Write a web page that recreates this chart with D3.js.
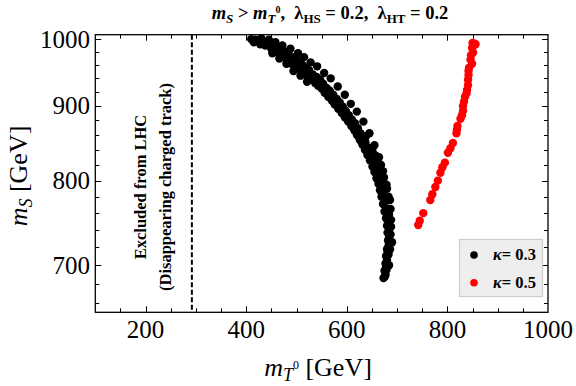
<!DOCTYPE html>
<html>
<head>
<meta charset="utf-8">
<script src="https://cdn.jsdelivr.net/npm/d3@7"></script>
<style>
  body { margin: 0; background: #fff; }
  svg { font-family: "Liberation Serif", "DejaVu Serif", serif; }
</style>
</head>
<body>
<div id="chart"></div>
<script>
// data: [m_T0, m_S] in GeV
const kappa03 = [
  [410,1000],[418,999],[425,998],[432,996],[440,995],[447,992],[455,988],[463,986],[470,982],[477,980],
  [485,975],[492,972],[499,968],[505,965],[512,960],[518,956],[525,952],[532,946],[540,942],[547,938],
  [553,932],[560,926],[566,922],[573,916],[580,910],[586,905],[592,899],[598,893],[604,887],[610,881],
  [616,876],[622,869],[627,862],[632,856],[637,850],[642,843],[647,836],[652,828],[656,822],[660,815],
  [664,808],[667,800],[671,792],[674,783],[676,775],[679,766],[681,757],[683,748],[684,740],[684,731],
  [683,722],[681,714],[680,706],[678,698],[677,690],
  [415,995],[428,992],[438,990],[450,985],[460,980],[468,975],[475,972],[482,968],[490,962],[497,958],
  [503,955],[510,950],[517,947],[523,942],[530,938],[537,933],[543,929],[550,925],[556,919],[563,913],
  [570,908],[576,902],[583,896],[590,890],[596,884],[603,878],[609,872],[615,866],[620,860],[626,853],
  [631,847],[636,840],[641,833],[646,826],[651,818],[655,811],[659,803],[663,796],[666,788],[669,780],
  [672,771],[675,762],[678,754],[680,745],[681,737],[682,728],[680,718],[678,710],[677,702],[675,694],[676,688],
  [430,1001],[445,999],[458,995],[472,990],[488,985],[503,978],[515,972],[528,964],[541,958],[555,948],
  [568,940],[582,928],[596,916],[608,903],[620,892],[633,878],[645,862],[655,846],[664,830],[672,812],
  [679,795],[683,780],[687,765],[688,752],[687,735],[686,718],
  [452,978],[466,970],[480,962],[494,951],[508,944],[521,935],[561,918],[575,904],[589,893],[601,881],
  [614,870],[624,857],[638,858],[651,838],[658,832],[668,820],[674,804],[680,790],[686,776],[684,758],
  [688,744],[690,726],[683,712],[684,700],[679,695],[673,686]
];
const kappa05 = [
  [742,746],[745,751],[752,760],[766,776],[770,783],[776,792],[781,800],[786,810],[790,817],[795,823],
  [801,836],[806,842],[811,849],[818,862],[819,867],[820,872],[826,882],[829,887],[831,893],[831,900],
  [833,906],[835,913],[838,918],[839,923],[841,930],[841,938],[842,945],[842,951],[843,956],[849,962],
  [846,968],[847,975],[851,979],[849,986],[852,990],[854,993],[850,994],[856,992]
];
const seriesNames = ["\u03ba= 0.3", "\u03ba= 0.5"];
const seriesColors = ["#000000", "#ff0000"];
const xTicks = [200, 400, 600, 800, 1000];
const yTicks = [700, 800, 900, 1000];
const exclusionLine = 292;

// CHART INIT -----------------------------------------------------------
const W = 576, H = 386;
const plot = {left: 95.3, right: 548, top: 34.7, bottom: 312.3};

const svg = d3.select('#chart').append('svg')
  .attr('width', W).attr('height', H);

const xScale = d3.scaleLinear().domain([100, 1000]).range([plot.left, plot.right]);
const yScale = d3.scaleLog().domain([650, 1007]).range([plot.bottom, plot.top]);

// frame ticks on all four sides, pointing inward
const xMinor = d3.range(150, 1000, 50);
const yMinor = d3.range(660, 1001, 20);
const tickG = svg.append('g').attr('stroke', '#000').attr('stroke-width', 1);
xMinor.forEach(v => {
  const len = v % 200 === 0 ? 6 : 4;
  const x = Math.round(xScale(v)) + 0.5;
  tickG.append('line').attr('x1', x).attr('x2', x).attr('y1', plot.bottom).attr('y2', plot.bottom - len);
  tickG.append('line').attr('x1', x).attr('x2', x).attr('y1', plot.top).attr('y2', plot.top + len);
});
yMinor.forEach(v => {
  const len = v % 100 === 0 ? 6 : 4;
  const y = Math.round(yScale(v)) + 0.5;
  tickG.append('line').attr('y1', y).attr('y2', y).attr('x1', plot.left).attr('x2', plot.left + len);
  tickG.append('line').attr('y1', y).attr('y2', y).attr('x1', plot.right).attr('x2', plot.right - len);
});

svg.append('rect')
  .attr('x', plot.left).attr('y', plot.top)
  .attr('width', plot.right - plot.left).attr('height', plot.bottom - plot.top)
  .attr('fill', 'none').attr('stroke', '#000').attr('stroke-width', 1.3);

// tick labels
svg.append('g').selectAll('text').data(xTicks).join('text')
  .attr('x', d => xScale(d)).attr('y', 338)
  .attr('text-anchor', 'middle').attr('font-size', 25)
  .text(d => d);

svg.append('g').selectAll('text').data(yTicks).join('text')
  .attr('x', 90).attr('y', d => yScale(d) + 8.5)
  .attr('text-anchor', 'end').attr('font-size', 25)
  .text(d => d);

// exclusion line
svg.append('line')
  .attr('x1', xScale(exclusionLine)).attr('x2', xScale(exclusionLine))
  .attr('y1', plot.top).attr('y2', plot.bottom)
  .attr('stroke', '#000').attr('stroke-width', 2)
  .attr('stroke-dasharray', '5,2.5');

const note = svg.append('text')
  .attr('transform', 'translate(154,187) rotate(-90)')
  .attr('text-anchor', 'middle').attr('font-weight', 'bold').attr('font-size', 16.5);
note.append('tspan').attr('x', 0).attr('dy', '-0.5em').text('Excluded from LHC');
note.append('tspan').attr('x', 0).attr('dy', '1.5em').text('(Disappearing charged track)');

// points
const clip = svg.append('clipPath').attr('id', 'clip').append('rect')
  .attr('x', plot.left).attr('y', plot.top)
  .attr('width', plot.right - plot.left).attr('height', plot.bottom - plot.top);

[kappa03, kappa05].forEach((series, i) => {
  svg.append('g').attr('clip-path', 'url(#clip)')
    .selectAll('circle').data(series).join('circle')
    .attr('cx', d => xScale(d[0]))
    .attr('cy', d => yScale(d[1]))
    .attr('r', 4.2)
    .attr('fill', seriesColors[i]);
});

// legend
const legend = svg.append('g');
legend.append('rect')
  .attr('x', 459.5).attr('y', 239.5).attr('width', 83).attr('height', 57)
  .attr('fill', '#eeeeee').attr('stroke', '#cccccc').attr('stroke-width', 1.2);
seriesNames.forEach((name, i) => {
  const y = 255 + i * 27.7;
  legend.append('circle').attr('cx', 474).attr('cy', y).attr('r', 3.8).attr('fill', seriesColors[i]);
  const t = legend.append('text').attr('x', 493).attr('y', y + 5)
    .attr('font-size', 16.5).attr('font-weight', 'bold');
  t.append('tspan').attr('font-style', 'italic').text(name.slice(0, 1));
  t.append('tspan').text(name.slice(1));
});

// axis titles
const xt = svg.append('text')
  .attr('x', 318).attr('y', 376).attr('text-anchor', 'middle').attr('font-size', 26);
xt.append('tspan').attr('font-style', 'italic').text('m');
xt.append('tspan').attr('font-style', 'italic').attr('font-size', 18).attr('dy', 5).text('T');
xt.append('tspan').attr('font-size', 12).attr('dy', -12).text('0');
xt.append('tspan').attr('dy', 7).text(' [GeV]');

const yt = svg.append('text')
  .attr('transform', 'translate(27,176) rotate(-90)')
  .attr('text-anchor', 'middle').attr('font-size', 26);
yt.append('tspan').attr('font-style', 'italic').text('m');
yt.append('tspan').attr('font-style', 'italic').attr('font-size', 18).attr('dy', 5).text('S');
yt.append('tspan').attr('dy', -5).text(' [GeV]');

// title
const title = svg.append('text')
  .attr('x', 330).attr('y', 19).attr('text-anchor', 'middle')
  .style('white-space', 'pre')
  .attr('font-size', 18.5).attr('font-weight', 'bold');
title.append('tspan').attr('font-style', 'italic').text('m');
title.append('tspan').attr('font-style', 'italic').attr('font-size', 13).attr('dy', 4).text('S');
title.append('tspan').attr('dy', -4).text(' > ');
title.append('tspan').attr('font-style', 'italic').text('m');
title.append('tspan').attr('font-style', 'italic').attr('font-size', 13).attr('dy', 4).text('T');
title.append('tspan').attr('font-size', 10).attr('dy', -10).text('0');
title.append('tspan').attr('dy', 6).text(',  \u03bb');
title.append('tspan').attr('font-size', 13).attr('dy', 4).text('HS');
title.append('tspan').attr('dy', -4).text(' = 0.2,  \u03bb');
title.append('tspan').attr('font-size', 13).attr('dy', 4).text('HT');
title.append('tspan').attr('dy', -4).text(' = 0.2');
</script>
</body>
</html>
